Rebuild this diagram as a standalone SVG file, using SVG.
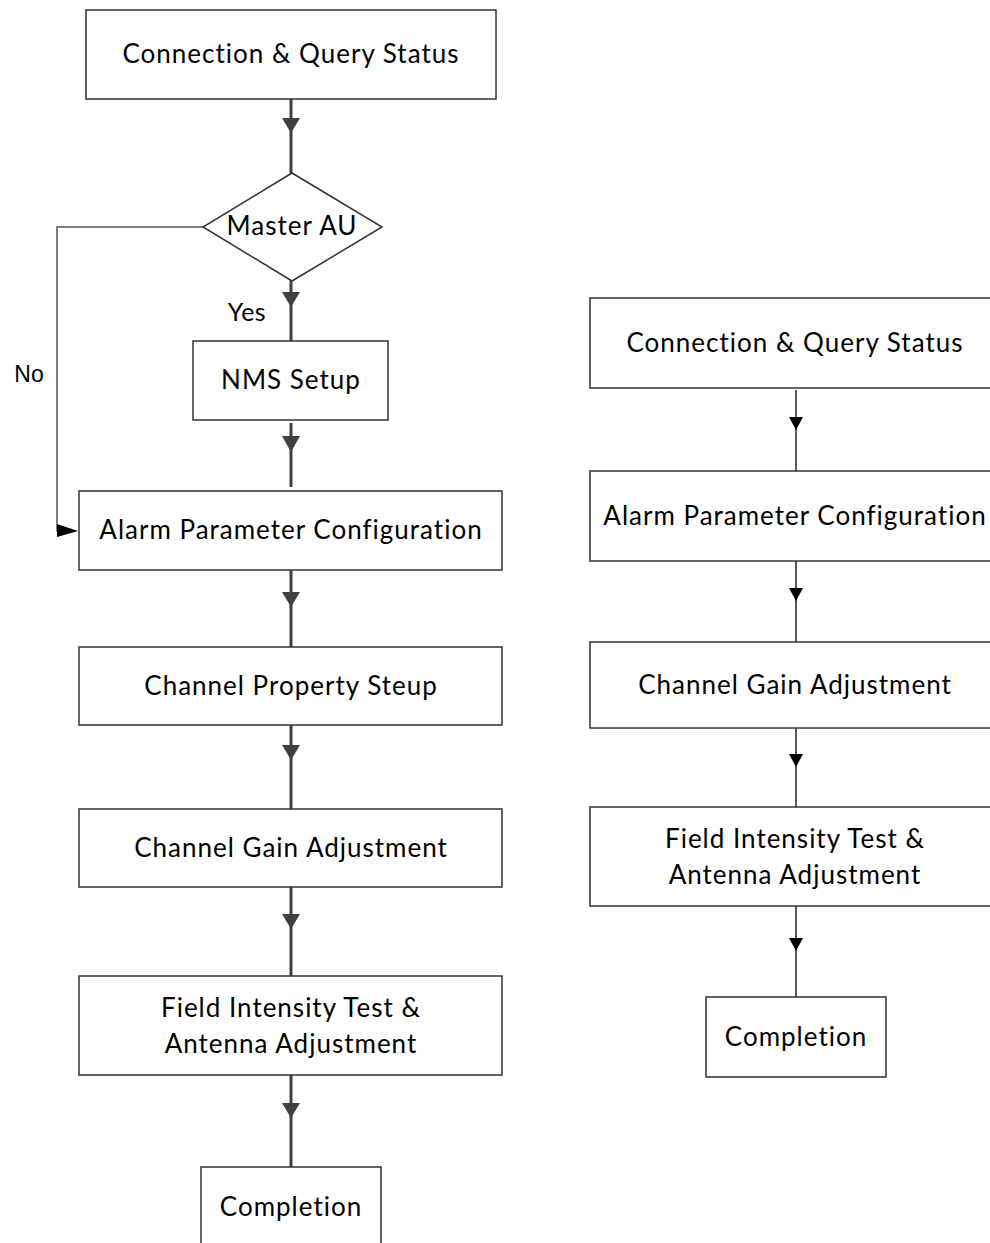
<svg xmlns="http://www.w3.org/2000/svg" width="990" height="1243" viewBox="0 0 990 1243">
<style>
.box{fill:#fff;stroke:#333;stroke-width:1.5}
.t{font-family:Lato,"Open Sans",sans-serif;font-size:26px;letter-spacing:1px;fill:#000;text-anchor:middle}
.lbl{font-family:"Liberation Sans",Arial,sans-serif;font-size:23px;fill:#000;text-anchor:middle}
.lc{fill:none;stroke:#404040;stroke-width:3}
.lcn{fill:none;stroke:#555;stroke-width:1.5}
.rc{fill:none;stroke:#222;stroke-width:1.5}
.ah{fill:#404040}
.rh{fill:#000}
</style>
<rect width="990" height="1243" fill="#fff"/>
<g id="connectors">
  <line class="lc" x1="291" y1="99" x2="291" y2="173"/>
  <polygon class="ah" points="282,118 300,118 291,133"/>
  <line class="lc" x1="291" y1="281" x2="291" y2="341"/>
  <polygon class="ah" points="282,292 300,292 291,307"/>
  <line class="lc" x1="291" y1="423" x2="291" y2="487"/>
  <polygon class="ah" points="282,436 300,436 291,452"/>
  <polyline class="lcn" points="203,227 57,227 57,531 62,531"/>
  <polygon class="rh" points="57,524 78,531 57,537"/>
  <line class="lc" x1="291" y1="570" x2="291" y2="647"/>
  <polygon class="ah" points="282,592 300,592 291,607"/>
  <line class="lc" x1="291" y1="725" x2="291" y2="809"/>
  <polygon class="ah" points="282,745 300,745 291,760"/>
  <line class="lc" x1="291" y1="887" x2="291" y2="976"/>
  <polygon class="ah" points="282,914 300,914 291,929"/>
  <line class="lc" x1="291" y1="1075" x2="291" y2="1167"/>
  <polygon class="ah" points="282,1103 300,1103 291,1118"/>
  <line class="rc" x1="796" y1="390" x2="796" y2="471"/>
  <polygon class="rh" points="789,417 803,417 796,430"/>
  <line class="rc" x1="796" y1="561" x2="796" y2="642"/>
  <polygon class="rh" points="789,588 803,588 796,601"/>
  <line class="rc" x1="796" y1="728" x2="796" y2="807"/>
  <polygon class="rh" points="789,754 803,754 796,767"/>
  <line class="rc" x1="796" y1="906" x2="796" y2="997"/>
  <polygon class="rh" points="789,938 803,938 796,951"/>
  <text class="t" x="247" y="321" style="font-size:25px;letter-spacing:0.5px">Yes</text>
  <text class="lbl" x="29" y="382">No</text>
</g>
<g id="l-conn"><rect class="box" x="86" y="10" width="410" height="89"/><text class="t" x="291" y="63">Connection &amp; Query Status</text></g>
<g id="l-master"><polygon class="box" points="292,173 382,227 292,281 203,227"/><text class="t" x="292" y="235">Master AU</text></g>
<g id="l-nms"><rect class="box" x="193" y="341" width="195" height="79"/><text class="t" x="291" y="389">NMS Setup</text></g>
<g id="l-alarm"><rect class="box" x="79" y="491" width="423" height="79"/><text class="t" x="291" y="539">Alarm Parameter Configuration</text></g>
<g id="l-prop"><rect class="box" x="79" y="647" width="423" height="78"/><text class="t" x="291" y="695">Channel Property Steup</text></g>
<g id="l-gain"><rect class="box" x="79" y="809" width="423" height="78"/><text class="t" x="291" y="857">Channel Gain Adjustment</text></g>
<g id="l-field"><rect class="box" x="79" y="976" width="423" height="99"/><text class="t" x="291" y="1017">Field Intensity Test &amp;</text><text class="t" x="291" y="1053">Antenna Adjustment</text></g>
<g id="l-done"><rect class="box" x="201" y="1167" width="180" height="90"/><text class="t" x="291" y="1216">Completion</text></g>
<g id="r-conn"><rect class="box" x="590" y="298" width="420" height="90"/><text class="t" x="795" y="352">Connection &amp; Query Status</text></g>
<g id="r-alarm"><rect class="box" x="590" y="471" width="420" height="90"/><text class="t" x="795" y="525">Alarm Parameter Configuration</text></g>
<g id="r-gain"><rect class="box" x="590" y="642" width="420" height="86"/><text class="t" x="795" y="694">Channel Gain Adjustment</text></g>
<g id="r-field"><rect class="box" x="590" y="807" width="420" height="99"/><text class="t" x="795" y="848">Field Intensity Test &amp;</text><text class="t" x="795" y="884">Antenna Adjustment</text></g>
<g id="r-done"><rect class="box" x="706" y="997" width="180" height="80"/><text class="t" x="796" y="1046">Completion</text></g>
</svg>
